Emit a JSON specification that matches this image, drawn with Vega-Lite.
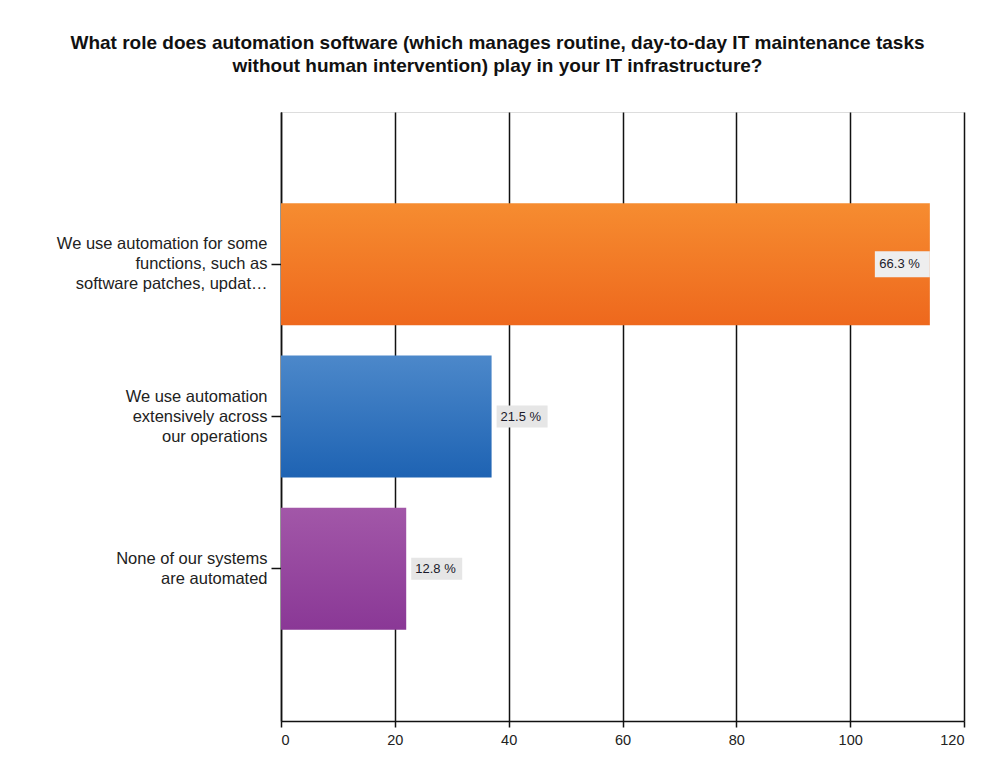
{
  "$schema": "https://vega.github.io/schema/vega-lite/v6.json",
  "width": 683,
  "height": 609,
  "autosize": {"type": "none"},
  "padding": {"left": 281, "top": 112, "right": 41, "bottom": 50},
  "background": "white",
  "title": {
    "text": ["What role does automation software (which manages routine, day-to-day IT maintenance tasks", "without human intervention) play in your IT infrastructure?"],
    "font": "Liberation Sans",
    "fontSize": 19,
    "fontWeight": "bold",
    "color": "#111111",
    "anchor": "middle",
    "frame": "group",
    "dx": -125,
    "offset": 36,
    "lineHeight": 23
  },
  "data": {
    "values": [
      {"answer": "We use automation for some|functions, such as|software patches, updat…", "count": 114, "pct": "66.3 %"},
      {"answer": "We use automation|extensively across|our operations", "count": 37, "pct": "21.5 %"},
      {"answer": "None of our systems|are automated", "count": 22, "pct": "12.8 %"}
    ]
  },
  "encoding": {
    "y": {
      "field": "answer",
      "type": "nominal",
      "sort": null,
      "scale": {
        "domain": ["We use automation for some|functions, such as|software patches, updat…", "We use automation|extensively across|our operations", "None of our systems|are automated"],
        "paddingInner": 0.2,
        "paddingOuter": 0.6
      },
      "axis": {
        "title": null,
        "labelExpr": "split(datum.value, '|')",
        "labelFont": "Liberation Sans",
        "labelFontSize": 16.5,
        "labelColor": "#222222",
        "labelLineHeight": 20,
        "labelPadding": 4,
        "labelLimit": 300,
        "labelOffset": {"expr": "length(split(datum.value, '|')) == 3 ? -20 : -10"},
        "tickSize": 10,
        "tickColor": "#111111",
        "tickWidth": 1.5,
        "domainColor": "#111111",
        "domainWidth": 1.5,
        "grid": false
      }
    },
    "x": {
      "field": "count",
      "type": "quantitative",
      "scale": {"domain": [0, 120], "nice": false},
      "axis": {
        "title": null,
        "values": [0, 20, 40, 60, 80, 100, 120],
        "grid": true,
        "gridColor": "#111111",
        "gridWidth": 1.5,
        "gridOpacity": 1,
        "domainColor": "#111111",
        "domainWidth": 1.5,
        "tickColor": "#111111",
        "tickWidth": 1.5,
        "tickSize": 6,
        "labelFont": "Liberation Sans",
        "labelFontSize": 14.5,
        "labelColor": "#222222",
        "labelPadding": 6
      }
    }
  },
  "layer": [
    {
      "transform": [{"filter": "datum.pct == '66.3 %'"}],
      "mark": {"type": "bar", "color": {"gradient": "linear", "x1": 0, "y1": 0, "x2": 0, "y2": 1, "stops": [{"offset": 0, "color": "#f68c30"}, {"offset": 1, "color": "#ee681d"}]}}
    },
    {
      "transform": [{"filter": "datum.pct == '21.5 %'"}],
      "mark": {"type": "bar", "color": {"gradient": "linear", "x1": 0, "y1": 0, "x2": 0, "y2": 1, "stops": [{"offset": 0, "color": "#4c88ca"}, {"offset": 1, "color": "#1e63b3"}]}}
    },
    {
      "transform": [{"filter": "datum.pct == '12.8 %'"}],
      "mark": {"type": "bar", "color": {"gradient": "linear", "x1": 0, "y1": 0, "x2": 0, "y2": 1, "stops": [{"offset": 0, "color": "#a257a8"}, {"offset": 1, "color": "#8a3896"}]}}
    },
    {
      "transform": [{"filter": "datum.count < 60"}],
      "mark": {"type": "bar", "height": 22, "color": "#e6e6e6", "xOffset": 5, "x2Offset": 56},
      "encoding": {
        "x2": {"field": "count"}
      }
    },
    {
      "transform": [{"filter": "datum.count >= 60"}],
      "mark": {"type": "bar", "height": 26, "color": "#eeeeee", "xOffset": -55, "x2Offset": 0},
      "encoding": {
        "x2": {"field": "count"}
      }
    },
    {
      "transform": [{"filter": "datum.count < 60"}],
      "mark": {"type": "text", "align": "left", "baseline": "middle", "dx": 9, "font": "Liberation Sans", "fontSize": 13, "color": "#1a1a2a"},
      "encoding": {
        "text": {"field": "pct"}
      }
    },
    {
      "transform": [{"filter": "datum.count >= 60"}],
      "mark": {"type": "text", "align": "right", "baseline": "middle", "dx": -10, "font": "Liberation Sans", "fontSize": 13, "color": "#1a1a2a"},
      "encoding": {
        "text": {"field": "pct"}
      }
    }
  ]
}
